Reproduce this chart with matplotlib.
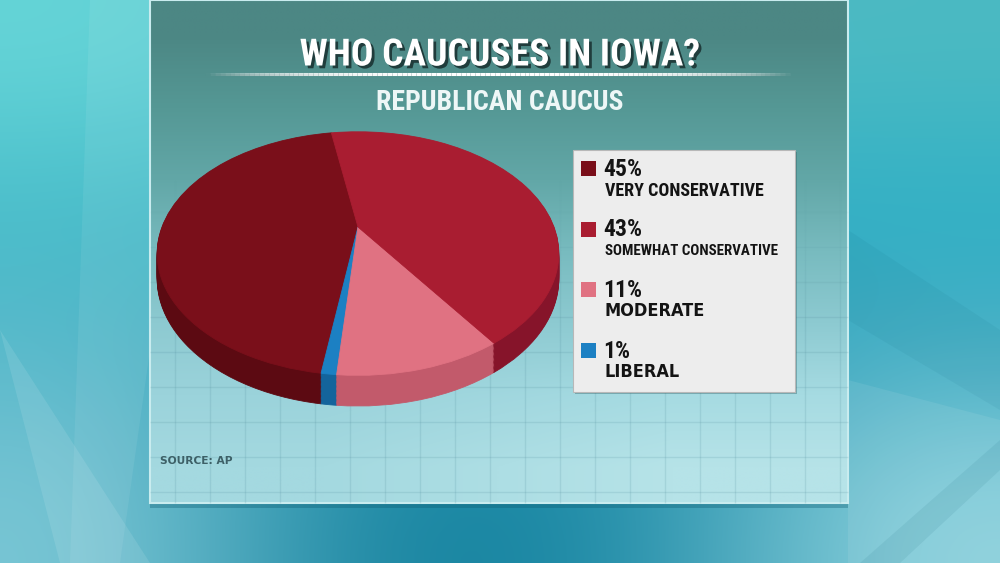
import os
import numpy as np
import matplotlib
matplotlib.use("Agg")
import matplotlib.pyplot as plt
import matplotlib.transforms as mtransforms
import matplotlib.patheffects as pe
import matplotlib.font_manager as fm
from matplotlib.patches import Rectangle, Polygon
from matplotlib.collections import LineCollection
from matplotlib.colors import to_rgb

# ---- data ----
title = "WHO CAUCUSES IN IOWA?"
subtitle = "REPUBLICAN CAUCUS"
source = "SOURCE: AP"
categories = ["VERY CONSERVATIVE", "SOMEWHAT CONSERVATIVE", "MODERATE", "LIBERAL"]
shares = [45, 43, 11, 1]

# ---- look ----
top_colors = ["#7a0f1a", "#a91d31", "#e07282", "#1c80c3"]
side_colors = ["#5c0a12", "#86142a", "#c25a6b", "#14649c"]
pie_order = [0, 3, 2, 1]          # counter-clockwise from the back edge
label_narrow = [True, True, False, False]
label_width = [172, 173, 107, 83]  # px the labels take in the graphic

W, H = 1000, 563

# tilted disc seen in perspective (pixel units)
PIE_X, PIE_Y = 358, 227
PIE_RX, PIE_RY = 196, 116
TILT = 0.218
DEPTH = 24
START = 99.5


def narrow_family():
    """First installed condensed/narrow face, else the narrowest plain one."""
    for fam in ["Liberation Sans Narrow", "Noto Sans ExtraCondensed",
                "Noto Sans Condensed", "DejaVu Sans Condensed",
                "Roboto Condensed", "Noto Sans", "DejaVu Sans"]:
        try:
            path = fm.findfont(fm.FontProperties(family=fam, stretch="condensed",
                                                 weight="bold"),
                               fallback_to_default=False)
        except ValueError:
            continue
        name = os.path.basename(path).lower()
        if "narrow" in name or "condensed" in name:
            return fam
    return "Liberation Sans"


NARROW = [narrow_family(), "DejaVu Sans"]
WIDE = ["DejaVu Sans"]


class TiltedDisc(mtransforms.Transform):
    input_dims = output_dims = 2

    def __init__(self, drop=0.0):
        super().__init__()
        self.drop = drop

    def transform_non_affine(self, values):
        values = np.asarray(values, dtype=float)
        u, v = values[:, 0], values[:, 1]
        s = 1 + TILT * v
        return np.column_stack([PIE_X + PIE_RX * u / s,
                                PIE_Y + (self.drop - PIE_RY * v) / s])


fig = plt.figure(figsize=(W / 100, H / 100), dpi=100)
renderer = fig.canvas.get_renderer()
ax = fig.add_axes([0, 0, 1, 1])
ax.set_xlim(0, W)
ax.set_ylim(H, 0)
ax.axis("off")


def fit(t, width, max_size):
    w = t.get_window_extent(renderer).width
    t.set_fontsize(min(max_size, t.get_fontsize() * width / w))


# background
bg = np.array([
    [to_rgb("#66d5d8"), to_rgb("#55c6cc"), to_rgb("#4fbcc6"), to_rgb("#4cbac2")],
    [to_rgb("#46bcc9"), to_rgb("#3ab4c6"), to_rgb("#33adc4"), to_rgb("#2db0c6")],
    [to_rgb("#5bb9cb"), to_rgb("#2a9ab5"), to_rgb("#2a9ab5"), to_rgb("#49aec4")],
    [to_rgb("#7cc8d6"), to_rgb("#127f9c"), to_rgb("#1d8aa6"), to_rgb("#8ed3de")],
])
ax.imshow(bg, extent=(0, W, H, 0), interpolation="bicubic", aspect="auto", zorder=0)
for pts, a in [([(0, 330), (150, 563), (60, 563)], 0.10),
               ([(90, 0), (150, 0), (150, 350), (120, 563), (70, 563)], 0.07),
               ([(848, 230), (1000, 330), (1000, 410), (848, 320)], -0.07),
               ([(860, 563), (1000, 440), (1000, 470), (900, 563)], -0.10),
               ([(848, 380), (1000, 420), (1000, 563), (848, 563)], 0.08)]:
    ax.add_patch(Polygon(pts, closed=True, lw=0, zorder=0.5,
                         facecolor="white" if a > 0 else "#0b5f78", alpha=abs(a)))

# panel
panel = np.array([[to_rgb(c)] * 2 for c in
                  ["#4c8784", "#559895", "#62a7a7", "#78bbbf", "#8dcad1",
                   "#9bd3db", "#a4d9e0"]])
panel[-1, 1] = to_rgb("#b6e3e8")
panel[-2, 1] = to_rgb("#a6dbe2")
ax.imshow(panel, extent=(150, 848, 503, 0), interpolation="bilinear",
          aspect="auto", zorder=1)
ax.add_patch(Rectangle((150, 0), 698, 503, fill=False, lw=1.5,
                       edgecolor="#c9ecef", zorder=1.2))
ax.add_patch(Rectangle((150, 503), 698, 5, lw=0, facecolor="#0d5e73",
                       alpha=0.35, zorder=1.1))

# floor grid, fading towards the top
segs, cols = [], []
for x in np.arange(175, 848, 35):
    for y0 in np.arange(170, 503, 10):
        segs.append([(x, y0), (x, min(y0 + 10, 503))])
        cols.append((0.33, 0.56, 0.62, 0.18 * min(1, (y0 - 170) / 150)))
for y in np.arange(212, 503, 35):
    segs.append([(150, y), (848, y)])
    cols.append((0.33, 0.56, 0.62, 0.18 * min(1, (y - 170) / 150)))
ax.add_collection(LineCollection(segs, colors=cols, linewidths=1, zorder=1.3))

# title block
t = ax.text(500, 55, title, ha="center", va="center", fontsize=29,
            fontweight="bold", family=NARROW, stretch="condensed", color="white",
            zorder=5, path_effects=[pe.withSimplePatchShadow(offset=(2, -2),
                                                             shadow_rgbFace="#1b3434",
                                                             alpha=0.9)])
fit(t, 400, 29)
xs = np.linspace(205, 790, 120)
line_a = np.clip(1 - np.abs((xs - 497) / 293) ** 4, 0, 1)
pts = np.column_stack([xs, np.full_like(xs, 73.5)])
segs = np.stack([pts[:-1], pts[1:]], axis=1)
ax.add_collection(LineCollection(segs + [0, 1.8],
                                 colors=[(0.15, 0.3, 0.3, a * 0.7) for a in line_a[:-1]],
                                 linewidths=1.3, zorder=5))
ax.add_collection(LineCollection(segs, colors=[(1, 1, 1, a) for a in line_a[:-1]],
                                 linewidths=2.2, zorder=5))
t = ax.text(500, 102, subtitle, ha="center", va="center", fontsize=20,
            fontweight="bold", family=NARROW, stretch="condensed",
            color="#eef7f7", zorder=5)
fit(t, 280, 20)

# legend box
ax.add_patch(Rectangle((575, 152), 222, 242, lw=0, facecolor="#1d4f55",
                       alpha=0.35, zorder=4))
ax.add_patch(Rectangle((573, 150), 222, 242, lw=0.8, facecolor="#ededed",
                       edgecolor="#b8b8b8", zorder=4.1))
for i, (name, share) in enumerate(zip(categories, shares)):
    yc = 168.5 + 60.5 * i
    ax.add_patch(Rectangle((581, yc - 7.5), 15, 15, lw=0,
                           facecolor=top_colors[i], zorder=4.5))
    ax.text(603, yc + 1, f"{share}%", ha="left", va="center", fontsize=17,
            fontweight="bold", family=NARROW, stretch="condensed",
            color="#141414", zorder=5)
    fam = NARROW if label_narrow[i] else WIDE
    t = ax.text(605, yc + 22, name, ha="left", va="center", fontsize=13,
                fontweight="bold", family=fam, stretch="condensed",
                color="#141414", zorder=5)
    fit(t, label_width[i], 13)

t = ax.text(160, 461, source, ha="left", va="center", fontsize=9,
            fontweight="bold", family=WIDE, color="#3d6067", zorder=5)
fit(t, 72, 9)

# 3D pie: stacked darker discs for the rim, then the top face
pax = fig.add_axes([0, 0, 1, 1], zorder=2)
vals = [shares[i] for i in pie_order]
for drop in list(np.arange(DEPTH, 0, -1.0)) + [0.0]:
    cols = side_colors if drop > 0 else top_colors
    wedges, _ = pax.pie(vals, colors=[cols[i] for i in pie_order],
                        startangle=START, counterclock=True)
    for w in wedges:
        w.set_edgecolor(w.get_facecolor())
        w.set_linewidth(0.6)
        w.set_transform(TiltedDisc(drop) + pax.transData)
pax.set_aspect("auto")
pax.set_xlim(0, W)
pax.set_ylim(H, 0)
pax.axis("off")

fig.savefig("out.png", dpi=100)
